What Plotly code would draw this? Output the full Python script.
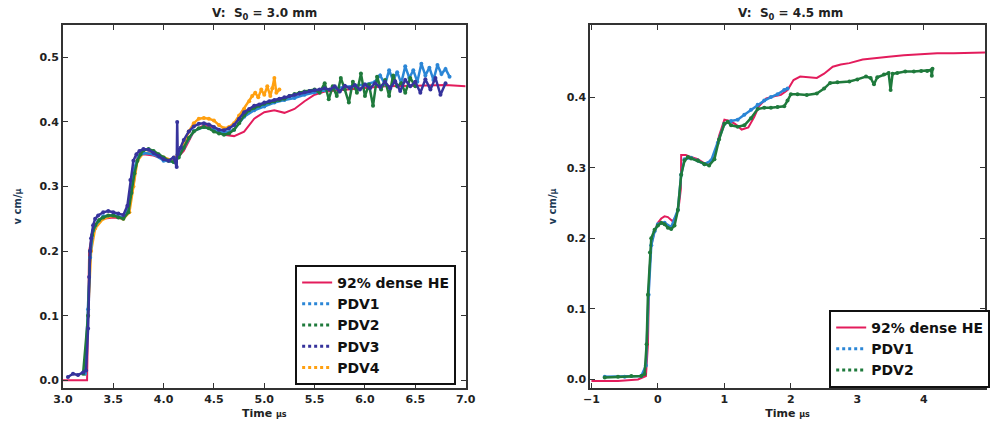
import plotly.graph_objects as go

# ---------------- Left panel (S0 = 3.0 mm) ----------------
he_x_L = [3.0, 3.24, 3.25, 3.26, 3.29, 3.33, 3.4, 3.5, 3.6, 3.65, 3.7, 3.74, 3.8, 3.9, 4.0, 4.1, 4.2, 4.3,
          4.4, 4.5, 4.6, 4.7, 4.8, 4.9, 5.0, 5.1, 5.2, 5.3, 5.4, 5.5, 5.6, 5.8, 6.0, 6.2, 6.5, 6.8, 7.0]
he_y_L = [0.0, 0.0, 0.1, 0.2, 0.225, 0.243, 0.25, 0.252, 0.25, 0.26, 0.3, 0.345, 0.35, 0.348, 0.342, 0.338,
          0.355, 0.385, 0.395, 0.39, 0.38, 0.378, 0.385, 0.405, 0.415, 0.418, 0.414, 0.42, 0.432, 0.442, 0.447,
          0.45, 0.452, 0.455, 0.456, 0.457, 0.455]

pdv1_x_L = [3.22, 3.25, 3.27, 3.30, 3.35, 3.40, 3.50, 3.60, 3.65, 3.70, 3.75, 3.80, 3.90, 4.00, 4.10, 4.20,
            4.30, 4.40, 4.50, 4.60, 4.70, 4.80, 4.90, 5.00, 5.10, 5.20, 5.30, 5.40, 5.50, 5.60, 5.70, 5.80,
            5.90, 6.00, 6.10, 6.15, 6.20, 6.24, 6.28, 6.32, 6.36, 6.40, 6.44, 6.48, 6.52, 6.56, 6.60, 6.64,
            6.68, 6.72, 6.76, 6.80, 6.84]
pdv1_y_L = [0.01, 0.11, 0.19, 0.232, 0.246, 0.254, 0.256, 0.252, 0.265, 0.325, 0.346, 0.352, 0.35, 0.34,
            0.338, 0.36, 0.386, 0.392, 0.388, 0.383, 0.388, 0.408, 0.418, 0.424, 0.43, 0.434, 0.437, 0.442,
            0.446, 0.449, 0.452, 0.454, 0.456, 0.458, 0.462, 0.472, 0.458, 0.48, 0.464, 0.477, 0.46, 0.486,
            0.468, 0.48, 0.462, 0.49, 0.472, 0.484, 0.465, 0.488, 0.474, 0.482, 0.47]

pdv2_x_L = [3.20, 3.25, 3.27, 3.29, 3.32, 3.36, 3.40, 3.45, 3.50, 3.55, 3.60, 3.65, 3.68, 3.71, 3.74, 3.77,
            3.80, 3.85, 3.90, 3.95, 4.00, 4.05, 4.10, 4.15, 4.20, 4.25, 4.30, 4.35, 4.40, 4.45, 4.50, 4.55,
            4.60, 4.65, 4.70, 4.75, 4.80, 4.85, 4.90, 4.95, 5.00, 5.05, 5.10, 5.15, 5.20, 5.25, 5.30, 5.35,
            5.40, 5.45, 5.50, 5.55, 5.60, 5.64, 5.68, 5.72, 5.76, 5.80, 5.84, 5.88, 5.92, 5.96, 6.00, 6.04,
            6.08, 6.12, 6.16, 6.20, 6.24, 6.28, 6.32, 6.36, 6.40, 6.45, 6.50]
pdv2_y_L = [0.01, 0.1, 0.2, 0.225, 0.24, 0.248, 0.252, 0.255, 0.255, 0.252, 0.25, 0.26, 0.29, 0.32, 0.34,
            0.35, 0.356, 0.358, 0.355, 0.35, 0.345, 0.34, 0.338, 0.345, 0.36, 0.375, 0.385, 0.39, 0.392, 0.39,
            0.385, 0.382, 0.38, 0.382, 0.388, 0.398, 0.41, 0.418, 0.422, 0.425, 0.428, 0.43, 0.432, 0.434,
            0.436, 0.44, 0.443, 0.445, 0.447, 0.448, 0.45, 0.445, 0.46, 0.435, 0.455, 0.44, 0.468, 0.45, 0.43,
            0.462, 0.445, 0.475, 0.44, 0.458, 0.425, 0.47, 0.45, 0.465, 0.44, 0.472, 0.455, 0.46, 0.445,
            0.468, 0.455]

pdv3_x_L = [3.05, 3.10, 3.15, 3.20, 3.23, 3.25, 3.26, 3.27, 3.28, 3.30, 3.32, 3.35, 3.40, 3.45, 3.50, 3.55,
            3.60, 3.64, 3.67, 3.70, 3.73, 3.76, 3.80, 3.85, 3.90, 3.95, 4.00, 4.05, 4.10, 4.13, 4.135, 4.14,
            4.17, 4.20, 4.25, 4.30, 4.35, 4.40, 4.45, 4.50, 4.55, 4.60, 4.65, 4.70, 4.75, 4.80, 4.85, 4.90,
            4.95, 5.00, 5.05, 5.10, 5.15, 5.20, 5.25, 5.30, 5.35, 5.40, 5.45, 5.50, 5.55, 5.60, 5.65, 5.70,
            5.75, 5.80, 5.85, 5.90, 5.95, 6.00, 6.05, 6.10, 6.15, 6.20, 6.25, 6.30, 6.35, 6.40, 6.45, 6.50,
            6.55, 6.60, 6.65, 6.70, 6.75, 6.80]
pdv3_y_L = [0.005, 0.01, 0.008, 0.012, 0.015, 0.08, 0.16, 0.2, 0.22, 0.24, 0.25, 0.255, 0.26, 0.262, 0.26,
            0.258, 0.256, 0.27, 0.31, 0.34, 0.35, 0.355, 0.358, 0.357, 0.352, 0.347, 0.342, 0.34, 0.345, 0.33,
            0.40, 0.35, 0.36, 0.372, 0.385, 0.393, 0.397, 0.398, 0.396, 0.392, 0.388, 0.387, 0.39, 0.395,
            0.405, 0.415, 0.42, 0.425, 0.427, 0.43, 0.432, 0.434, 0.436, 0.438, 0.44, 0.442, 0.444, 0.446,
            0.448, 0.449, 0.45, 0.452, 0.45, 0.455, 0.447, 0.456, 0.452, 0.457, 0.45, 0.458, 0.452, 0.46,
            0.454, 0.462, 0.452, 0.463, 0.448, 0.465, 0.455, 0.462, 0.445, 0.466, 0.45, 0.468, 0.442, 0.46]

pdv4_x_L = [3.22, 3.25, 3.28, 3.32, 3.40, 3.50, 3.60, 3.66, 3.70, 3.74, 3.80, 3.90, 4.00, 4.10, 4.20, 4.25,
            4.30, 4.35, 4.40, 4.45, 4.50, 4.55, 4.60, 4.65, 4.70, 4.75, 4.80, 4.85, 4.88, 4.91, 4.94, 4.97,
            5.00, 5.03, 5.06, 5.08, 5.10, 5.12, 5.15]
pdv4_y_L = [0.01, 0.1, 0.2, 0.235, 0.25, 0.255, 0.25, 0.26, 0.3, 0.34, 0.352, 0.352, 0.345, 0.34, 0.365,
            0.385, 0.398, 0.405, 0.406, 0.405, 0.402, 0.395, 0.39, 0.392, 0.398, 0.41, 0.42, 0.432, 0.44,
            0.445, 0.438, 0.45, 0.442, 0.455, 0.44, 0.452, 0.468, 0.445, 0.45]

# ---------------- Right panel (S0 = 4.5 mm) ----------------
he_x_R = [-1.0, -0.6, -0.3, -0.18, -0.15, -0.13, -0.1, -0.05, 0.0, 0.05, 0.1, 0.15, 0.22, 0.28, 0.32, 0.345,
          0.35, 0.42, 0.5, 0.6, 0.7, 0.77, 0.85, 0.92, 1.0, 1.08, 1.16, 1.26, 1.36, 1.45, 1.52, 1.63, 1.75,
          1.85, 1.95, 2.04, 2.14, 2.25, 2.39, 2.5, 2.63, 2.75, 2.88, 3.08, 3.25, 3.47, 3.7, 3.96, 4.2, 4.45,
          4.7, 4.95]
he_y_R = [-0.002, -0.002, 0.0, 0.005, 0.05, 0.15, 0.19, 0.21, 0.222, 0.228, 0.231, 0.23, 0.224, 0.232, 0.25,
          0.27, 0.318, 0.318, 0.315, 0.312, 0.306, 0.304, 0.315, 0.345, 0.368, 0.366, 0.362, 0.354, 0.357,
          0.372, 0.387, 0.398, 0.401, 0.403, 0.41, 0.424, 0.429, 0.428, 0.427, 0.433, 0.443, 0.446, 0.448,
          0.453, 0.455, 0.457, 0.459, 0.461, 0.462, 0.462, 0.463, 0.463]

pdv1_x_R = [-0.8, -0.5, -0.25, -0.18, -0.14, -0.1, -0.05, 0.0, 0.1, 0.2, 0.3, 0.35, 0.4, 0.5, 0.6, 0.7, 0.8,
            0.9, 1.0, 1.1, 1.2, 1.3, 1.4, 1.5, 1.6, 1.7, 1.8, 1.9, 1.95]
pdv1_y_R = [0.004, 0.004, 0.005, 0.02, 0.12, 0.19, 0.21, 0.22, 0.222, 0.216, 0.24, 0.29, 0.312, 0.314, 0.31,
            0.305, 0.31, 0.335, 0.362, 0.366, 0.368, 0.375, 0.382, 0.389, 0.395, 0.4, 0.404, 0.41, 0.412]

pdv2_x_R = [-0.8, -0.6, -0.4, -0.25, -0.2, -0.17, -0.15, -0.12, -0.1, -0.05, 0.0, 0.05, 0.1, 0.15, 0.2, 0.25,
            0.3, 0.35, 0.4, 0.45, 0.5, 0.6, 0.7, 0.77, 0.85, 0.92, 1.0, 1.05, 1.1, 1.2, 1.3, 1.4, 1.5, 1.6, 1.7,
            1.8, 1.9, 1.95, 2.0, 2.1, 2.24, 2.39, 2.5, 2.59, 2.7, 2.88, 3.0, 3.13, 3.2, 3.25, 3.3, 3.4, 3.47,
            3.5, 3.53, 3.6, 3.72, 3.85, 3.96, 4.05, 4.11, 4.12, 4.13]
pdv2_y_R = [0.003, 0.004, 0.005, 0.005, 0.008, 0.05, 0.12, 0.18, 0.2, 0.212, 0.218, 0.222, 0.22, 0.215,
            0.213, 0.218, 0.24, 0.29, 0.31, 0.315, 0.313, 0.31, 0.305, 0.303, 0.312, 0.34, 0.362, 0.365, 0.36,
            0.358, 0.36, 0.37, 0.383, 0.385, 0.385, 0.386, 0.387, 0.395, 0.404, 0.404, 0.403, 0.405, 0.412,
            0.42, 0.421, 0.422, 0.425, 0.429, 0.427, 0.418, 0.428, 0.432, 0.434, 0.41, 0.433, 0.434, 0.436,
            0.436, 0.437, 0.437, 0.438, 0.43, 0.44]

ticks_x_L = [3.0, 3.5, 4.0, 4.5, 5.0, 5.5, 6.0, 6.5, 7.0]
ticks_y_L = [0.0, 0.1, 0.2, 0.3, 0.4, 0.5]
ticks_x_R = [-1, 0, 1, 2, 3, 4, 5]
ticks_y_R = [0.0, 0.1, 0.2, 0.3, 0.4]

RED = '#e31c5c'
C1 = '#2b86d6'
C2 = '#1f7a3c'
C3 = '#36339c'
C4 = '#ffa010'
FONT = 'DejaVu Sans'

fig = go.Figure()


def add_line(x, y, name, color, xa, ya, legend, rank):
    fig.add_trace(go.Scatter(x=x, y=y, mode='lines', name=name, line=dict(color=color, width=2),
                             xaxis=xa, yaxis=ya, legend=legend, legendrank=rank))


def add_pdv(x, y, name, color, xa, ya, legend, rank):
    fig.add_trace(go.Scatter(x=x, y=y, mode='lines+markers', name=name,
                             line=dict(color=color, width=2.5), marker=dict(color=color, size=4),
                             xaxis=xa, yaxis=ya, legend=legend, showlegend=False))
    # legend entry rendered as dotted markers
    fig.add_trace(go.Scatter(x=[None], y=[None], mode='lines', name=name,
                             line=dict(color=color, width=3, dash='dot'),
                             xaxis=xa, yaxis=ya, legend=legend, legendrank=rank))


# left (drawing order chosen so that the darker series lie on top)
add_line(he_x_L, he_y_L, '92% dense HE', RED, 'x', 'y', 'legend', 1)
add_pdv(pdv4_x_L, pdv4_y_L, 'PDV4', C4, 'x', 'y', 'legend', 5)
add_pdv(pdv1_x_L, pdv1_y_L, 'PDV1', C1, 'x', 'y', 'legend', 2)
add_pdv(pdv2_x_L, pdv2_y_L, 'PDV2', C2, 'x', 'y', 'legend', 3)
add_pdv(pdv3_x_L, pdv3_y_L, 'PDV3', C3, 'x', 'y', 'legend', 4)
# right
add_line(he_x_R, he_y_R, '92% dense HE', RED, 'x2', 'y2', 'legend2', 1)
add_pdv(pdv1_x_R, pdv1_y_R, 'PDV1', C1, 'x2', 'y2', 'legend2', 2)
add_pdv(pdv2_x_R, pdv2_y_R, 'PDV2', C2, 'x2', 'y2', 'legend2', 3)

axis_common = dict(showgrid=False, zeroline=False, showline=True, linecolor='#333333', linewidth=1.5,
                   mirror='allticks', ticks='inside', ticklen=5, tickcolor='#333333',
                   tickfont=dict(family=FONT, size=11, color='#222222', weight='bold'))

small_mu = "<span style='font-size:8px'>μs</span>"
ytitle = "v cm/<span style='font-size:8px'>μ</span>"
fig.update_layout(
    width=995, height=428,
    margin=dict(l=0, r=0, t=25, b=40),
    paper_bgcolor='white', plot_bgcolor='white',
    font=dict(family=FONT, color='#222222'),
    xaxis=dict(domain=[54 / 995, 465 / 995], range=[3.0, 7.0], tickvals=ticks_x_L, tickformat='.1f',
               anchor='y', title=dict(text='Time ' + small_mu, standoff=4,
                                      font=dict(family=FONT, size=11, weight='bold')), **axis_common),
    yaxis=dict(domain=[0, 1], range=[-0.012, 0.55], tickvals=ticks_y_L, tickformat='.1f', anchor='x',
               title=dict(text=ytitle, standoff=16,
                          font=dict(family=FONT, size=10, color='#1d3a55', weight='bold')), **axis_common),
    xaxis2=dict(domain=[592 / 995, 1.0], range=[-1.02, 4.92], tickvals=ticks_x_R, tickformat='d',
                anchor='y2', title=dict(text='Time ' + small_mu, standoff=4,
                                        font=dict(family=FONT, size=11, weight='bold')), **axis_common),
    yaxis2=dict(domain=[0, 1], range=[-0.012, 0.502], tickvals=ticks_y_R, tickformat='.1f', anchor='x2',
                title=dict(text=ytitle, standoff=8,
                           font=dict(family=FONT, size=10, color='#1d3a55', weight='bold')), **axis_common),
    legend=dict(x=291 / 995, y=(388 - 265) / 363, xanchor='left', yanchor='top', bgcolor='white',
                bordercolor='#111111', borderwidth=2, tracegroupgap=0, traceorder='normal',
                font=dict(family=FONT, size=14, color='#111111', weight='bold')),
    legend2=dict(x=836 / 995, y=(388 - 310) / 363, xanchor='left', yanchor='top', bgcolor='white',
                 bordercolor='#111111', borderwidth=2, tracegroupgap=0, traceorder='normal',
                 font=dict(family=FONT, size=14, color='#111111', weight='bold')),
    annotations=[
        dict(text='V:  S<sub>0</sub> = 3.0 mm', x=(54 + 465) / 2 / 995, y=1.0, xref='paper', yref='paper',
             xanchor='center', yanchor='bottom', yshift=1, showarrow=False,
             font=dict(family=FONT, size=12, color='#222222', weight='bold')),
        dict(text='V:  S<sub>0</sub> = 4.5 mm', x=797 / 995, y=1.0, xref='paper', yref='paper',
             xanchor='center', yanchor='bottom', yshift=1, showarrow=False,
             font=dict(family=FONT, size=12, color='#222222', weight='bold')),
    ],
)

fig.write_html('out.html')
